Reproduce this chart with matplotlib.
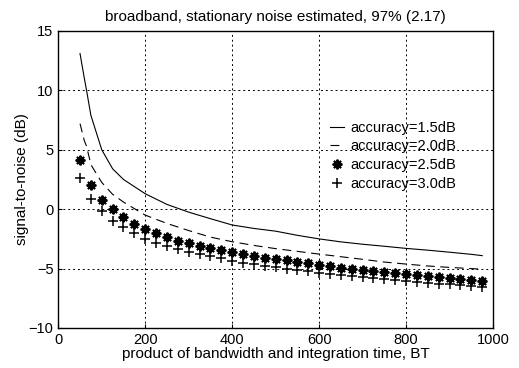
import matplotlib
matplotlib.use("Agg")
import matplotlib.pyplot as plt

plt.rcParams['font.family'] = ['Liberation Sans', 'DejaVu Sans']

# BT values for the two curves
bt_line = [50, 60, 65, 75, 100, 125, 150, 175, 200, 250, 300, 350, 400,
           450, 500, 550, 600, 650, 700, 750, 800, 850, 900, 950, 975]
snr_15 = [13.1, 11.0, 10.0, 7.9, 5.0, 3.4, 2.5, 1.9, 1.3, 0.4, -0.25, -0.8, -1.33,
          -1.62, -1.85, -2.2, -2.5, -2.75, -2.95, -3.12, -3.3, -3.45, -3.62, -3.8, -3.91]
snr_20 = [7.2, 5.75, 5.3, 3.75, 2.25, 1.25, 0.6, 0.05, -0.5, -1.2, -1.8, -2.35, -2.74,
          -3.05, -3.32, -3.55, -3.78, -4.0, -4.22, -4.45, -4.62, -4.78, -4.9, -5.0, -5.05]

# BT values for the marker series
bt_mark = [50, 75, 100, 125, 150, 175, 200, 225, 250, 275, 300, 325, 350,
           375, 400, 425, 450, 475, 500, 525, 550, 575, 600, 625, 650, 675,
           700, 725, 750, 775, 800, 825, 850, 875, 900, 925, 950, 975]
snr_25 = [4.14, 2.04, 0.77, -0.01, -0.68, -1.25, -1.69, -2.03, -2.37, -2.65,
          -2.87, -3.07, -3.27, -3.47, -3.63, -3.8, -3.94, -4.08, -4.19, -4.31,
          -4.44, -4.56, -4.7, -4.82, -4.93, -5.03, -5.12, -5.2, -5.3, -5.38,
          -5.46, -5.56, -5.65, -5.72, -5.79, -5.87, -5.95, -6.02]
snr_30 = [2.65, 0.83, -0.15, -0.97, -1.52, -2.03, -2.48, -2.82, -3.12, -3.38,
          -3.6, -3.77, -3.98, -4.13, -4.32, -4.5, -4.64, -4.78, -4.89, -5.0,
          -5.12, -5.22, -5.35, -5.45, -5.55, -5.65, -5.73, -5.82, -5.9, -5.97,
          -6.05, -6.12, -6.2, -6.27, -6.33, -6.4, -6.47, -6.55]

labels = ['accuracy=1.5dB', 'accuracy=2.0dB', 'accuracy=2.5dB', 'accuracy=3.0dB']

fig = plt.figure(figsize=(5.19, 3.68), dpi=100)
ax = fig.add_axes([0.1123, 0.1087, 0.8377, 0.8071])

ax.plot(bt_line, snr_15, color='black', lw=0.8, label=labels[0])
ax.plot(bt_line, snr_20, color='black', lw=0.8, linestyle=(0, (8, 5)), label=labels[1])
ax.plot(bt_mark, snr_25, linestyle='none', marker=(8, 2, 0), ms=7, mew=1.4,
        color='black', label=labels[2])
ax.plot(bt_mark, snr_30, linestyle='none', marker='+', ms=7, mew=1.1,
        color='black', label=labels[3])

ax.set_xlim(0, 1000)
ax.set_ylim(-10, 15)
ax.set_xticks([0, 200, 400, 600, 800, 1000])
ax.set_yticks([-10, -5, 0, 5, 10, 15])
ax.tick_params(direction='in', length=3, labelsize=10.5, colors='black')
ax.grid(True, color='black', linestyle=(0, (2, 3)), linewidth=0.7)
for s in ax.spines.values():
    s.set_linewidth(1.0)

ax.set_title('broadband, stationary noise estimated, 97% (2.17)', fontsize=11, pad=7)
ax.set_xlabel('product of bandwidth and integration time, BT', fontsize=11, labelpad=0)
ax.set_ylabel('signal-to-noise (dB)', fontsize=11, labelpad=0)

ax.legend(loc='upper left', bbox_to_anchor=(0.626, 0.698), frameon=False,
          fontsize=10.5, handlelength=0.9, handletextpad=0.5, labelspacing=0.32,
          borderpad=0, borderaxespad=0)

fig.savefig('out.png', dpi=100)
